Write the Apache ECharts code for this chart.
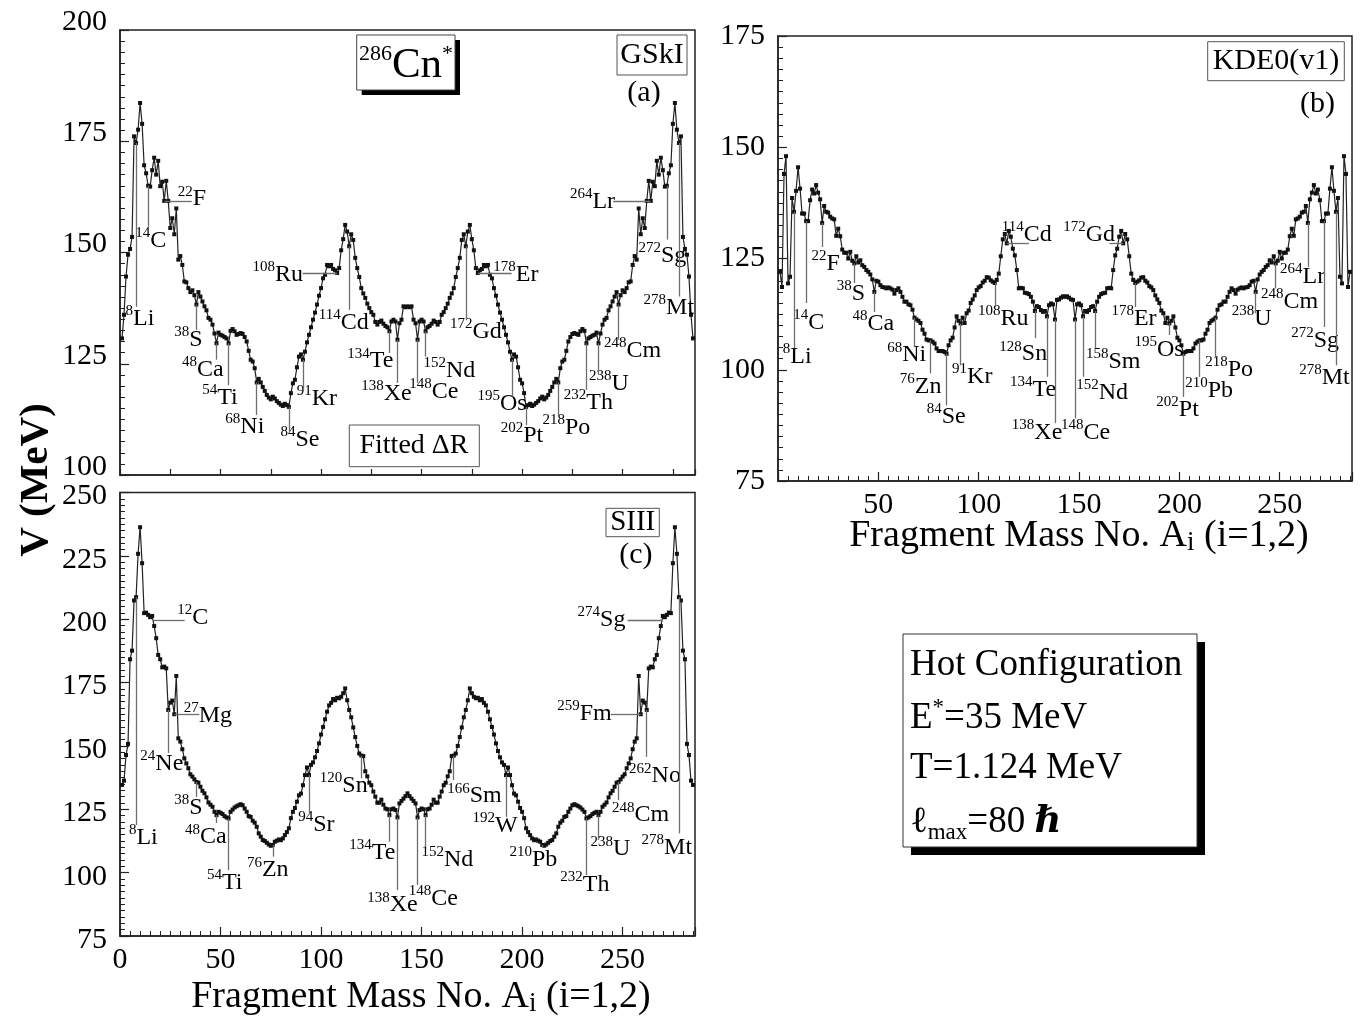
<!DOCTYPE html>
<html>
<head>
<meta charset="utf-8">
<script src="https://cdn.jsdelivr.net/npm/echarts@6/dist/echarts.min.js"></script>
<style>
  html, body { margin: 0; padding: 0; background: #fff; }
  #chart { width: 1370px; height: 1019px; }
</style>
</head>
<body>
<div id="chart"></div>
<script>
// Fragmentation potential V (MeV) of hot 286Cn* versus light-fragment mass A1 = 1..143.
// The complementary heavy fragment A2 = 286 - A1 carries the same value.
const vGSkI = [
  130.7,136.0,144.6,149.5,150.8,153.5,176.1,174.6,177.6,183.6,
  178.9,169.6,167.8,165.0,164.8,168.5,171.3,167.5,170.6,164.9,
  165.9,161.6,166.1,161.6,155.5,157.7,154.1,159.9,148.4,149.2,
  147.2,143.5,143.3,142.0,141.1,141.5,140.4,138.3,141.1,140.1,
  139.0,137.9,137.0,135.3,134.9,133.8,131.8,129.6,132.0,131.5,
  131.3,131.0,130.7,129.6,132.4,132.8,132.3,131.5,131.7,131.9,
  131.7,131.0,130.0,127.9,125.9,125.5,124.0,120.8,121.6,120.8,
  119.8,118.9,118.0,117.4,117.0,117.6,117.2,116.6,116.2,115.8,
  115.5,116.0,115.7,115.3,118.4,120.6,121.4,124.2,126.6,127.1,
  125.9,127.7,129.8,131.5,133.2,134.9,136.5,138.3,140.3,142.0,
  144.2,145.0,147.2,146.9,147.2,146.3,146.0,145.4,146.5,150.5,
  153.0,156.2,154.7,151.4,154.1,152.8,148.8,146.5,144.5,142.0,
  140.8,139.8,138.5,137.5,136.6,136.0,134.4,133.8,134.4,134.7,
  134.0,133.5,133.2,132.3,134.5,134.9,134.5,130.4,134.1,134.9,
  137.9,137.7,137.9
];
const vKDE0 = [
  122.0,118.6,144.0,148.0,119.4,120.9,138.6,135.5,140.2,145.5,
  140.7,135.1,135.1,133.4,133.4,138.1,140.5,139.6,141.5,139.8,
  138.3,133.0,136.8,135.5,135.3,134.4,134.0,133.8,130.1,131.7,
  130.0,127.0,126.3,126.3,125.0,126.5,124.5,123.9,125.5,124.1,
  124.6,123.5,123.1,122.4,122.0,121.4,120.3,117.5,120.0,119.8,
  119.0,118.6,118.5,118.3,118.5,118.3,118.0,117.1,117.9,118.3,
  117.5,116.4,115.3,115.3,114.7,114.5,113.5,111.7,111.3,111.0,
  110.5,109.0,108.1,106.8,106.6,106.6,106.3,105.9,104.8,104.2,
  104.2,104.2,104.0,103.6,105.5,106.6,107.2,109.5,112.0,111.0,
  110.4,111.7,110.5,112.7,113.3,115.0,115.8,116.7,117.9,118.5,
  118.8,119.6,120.0,120.8,120.7,120.1,119.8,119.5,120.2,121.6,
  125.5,129.3,130.5,128.4,131.2,129.9,127.2,125.7,122.4,118.3,
  118.4,118.3,117.3,117.2,117.0,116.4,115.3,113.2,114.3,114.1,
  113.4,113.0,113.2,112.0,114.5,114.9,114.7,111.3,115.7,115.8,
  116.2,116.5,116.4
];
const vSIII = [
  134.6,136.3,146.4,150.8,184.2,187.6,207.4,208.7,225.8,236.3,
  222.1,202.4,202.6,201.7,200.8,201.3,197.3,192.5,185.9,184.2,
  181.0,181.3,180.6,164.2,167.1,167.9,162.5,177.6,153.0,151.7,
  148.7,145.1,143.1,141.2,138.8,137.9,136.8,135.8,135.5,133.9,
  132.3,131.3,129.7,127.7,126.8,126.0,124.0,122.7,124.0,123.6,
  123.1,122.3,121.8,121.4,124.0,124.9,125.7,126.2,126.6,127.0,
  126.6,125.3,124.0,122.3,122.0,120.5,119.7,118.1,115.5,114.2,
  112.9,112.5,111.8,111.1,110.6,110.9,112.2,112.6,113.1,112.8,
  113.5,114.8,116.0,117.5,121.5,124.0,125.5,128.0,130.5,131.2,
  134.5,138.5,141.5,138.5,142.5,143.5,145.5,148.0,151.0,154.5,
  157.5,160.5,163.5,166.0,167.0,168.5,168.0,169.0,168.8,169.4,
  170.8,172.7,168.0,164.2,161.3,157.3,153.5,150.0,147.0,146.2,
  146.0,140.0,138.0,135.5,134.5,132.0,130.0,127.6,127.6,128.8,
  126.8,125.3,125.0,122.7,125.0,125.3,124.7,121.8,127.3,128.3,
  129.2,130.2,131.3
];

// Tick values of the axes
const massTicks = [0, 50, 100, 150, 200, 250];
const yTicksA = [100, 125, 150, 175, 200];
const yTicksB = [75, 100, 125, 150, 175];
const yTicksC = [75, 100, 125, 150, 175, 200, 225, 250];

// Labelled fragments: [mass, element, leader end A, leader end V (null = horizontal), label A, label V, (leader start A, V)]
const calloutsA = [
  [8,'Li',8,137.8,9.9,135.2],[14,'C',14,155.8,15.3,152.6],[22,'F',35.7,null,35.8,162.0],
  [38,'S',38,132.6,34.0,130.4],[48,'Ca',48,125.9,41.2,123.6],[54,'Ti',54,120.2,49.7,117.4],
  [68,'Ni',68,113.5,62.1,110.9],[84,'Se',84,109.7,89.5,107.9],[91,'Kr',91,119.1,97.9,117.2],
  [108,'Ru',90.8,null,78.5,145.1],[114,'Cd',114,137.1,111.3,134.3],[134,'Te',134,127.4,124.5,125.6],
  [138,'Xe',138,120.7,132.5,118.2],[148,'Ce',148,120.7,156.1,118.8],[152,'Nd',152,126.6,163.8,123.4],
  [172,'Gd',172,134.9,177.0,132.2],[178,'Er',194.8,null,196.9,145.0],[195,'Os',195,117.6,190.0,116.0],
  [202,'Pt',202,111.2,199.9,108.8],[218,'Po',218,113.1,222.0,110.6],[232,'Th',232,119.1,233.0,116.3],
  [238,'U',238,122.5,243.2,120.5],[248,'Cm',248,130.4,254.9,127.9],[264,'Lr',245.3,null,235.0,161.5],
  [272,'Sg',272,152.9,269.8,149.3],[278,'Mt',278,140.1,273.0,137.7]
];
const calloutsB = [
  [8,'Li',8,104.8,9.6,102.9],[14,'C',14,115.0,15.3,110.6],[22,'F',22,127.6,23.8,123.8],
  [38,'S',38,119.5,36.3,117.1],[48,'Ca',48,113.0,47.5,110.3],[68,'Ni',68,105.1,64.1,103.3],
  [76,'Zn',76,99.2,71.1,96.2],[84,'Se',84,92.0,83.8,89.5],[91,'Kr',91,101.0,96.8,98.4],
  [108,'Ru',108,114.1,112.2,111.4],[114,'Cd',125.0,null,123.9,130.3],[128,'Sn',128,107.1,122.2,103.5],
  [134,'Te',134,98.4,127.1,95.6],[138,'Xe',138,88.0,129.1,85.8],[148,'Ce',148,89.1,153.3,85.8],
  [152,'Nd',152,98.4,161.5,94.8],[158,'Sm',158,104.8,167.0,101.9],[172,'Gd',165.2,null,155.0,130.3],
  [178,'Er',178,114.1,177.4,111.5],[195,'Os',195,107.8,189.9,104.6],[202,'Pt',202,93.9,199.1,91.1],
  [210,'Pb',210,98.4,214.8,95.4],[218,'Po',218,102.6,224.8,100.1],[238,'U',238,112.7,236.0,111.4],
  [248,'Cm',248,118.3,254.9,115.3],[264,'Lr',264,123.1,261.4,120.9],[272,'Sg',272,109.6,267.6,106.6],
  [278,'Mt',278,101.0,272.3,98.2]
];
const calloutsC = [
  [8,'Li',8,118.8,11.6,113.8],[12,'C',32.2,199.5,36.2,200.7,16.5,199.5],[24,'Ne',24,147.2,20.8,142.9],
  [27,'Mg',39.4,null,43.7,161.8],[38,'S',38,129.9,34.0,125.7],[48,'Ca',48,119.6,42.7,114.0],
  [54,'Ti',54,101.0,52.1,96.1],[76,'Zn',76,106.3,73.5,101.0],[94,'Sr',94,123.4,97.7,118.8],
  [120,'Sn',120,137.2,111.3,134.2],[134,'Te',134,112.2,125.5,107.9],[138,'Xe',138,93.1,135.5,87.2],
  [148,'Ce',148,95.1,155.9,89.6],[152,'Nd',152,110.2,162.8,105.0],[166,'Sm',166,136.5,176.3,130.2],
  [192,'W',192,122.0,186.5,118.4],[210,'Pb',210,109.7,205.6,105.0],[232,'Th',232,99.0,231.2,95.1],
  [238,'U',238,112.9,243.9,109.3],[248,'Cm',248,128.6,258.9,122.7],[259,'Fm',244.0,null,231.0,162.6],
  [262,'No',262,145.7,266.1,138.1],[274,'Sg',252.5,199.5,239.5,199.7,269.5,199.5],[278,'Mt',278,115.5,272.0,109.9]
];

const FONT = 'Liberation Serif, Times New Roman, DejaVu Serif, serif';
const INK = '#000';
const TOTAL_MASS = 286;

function valueAt(v, m) {
  return v[(m <= TOTAL_MASS / 2 ? m : TOTAL_MASS - m) - 1];
}
const masses = Array.from({ length: TOTAL_MASS - 1 }, (_, i) => i + 1);
function curve(v) { return masses.map(a => [a, valueAt(v, a)]); }

function leaders(v, list) {
  return list.map(c => {
    const from = c.length > 6 ? [c[6], c[7]] : [c[0], valueAt(v, c[0])];
    const to = [c[2], c[3] === null ? from[1] : c[3]];
    return [{ coord: from }, { coord: to }];
  });
}

const richNuclide = {
  s: { fontFamily: FONT, fontSize: 15, lineHeight: 14, verticalAlign: 'top', color: INK, opacity: 1 },
  e: { fontFamily: FONT, fontSize: 24, lineHeight: 30, color: INK, opacity: 1 }
};

function panelSeries(idx, v, list) {
  return [
    {
      type: 'line', xAxisIndex: idx, yAxisIndex: idx, data: curve(v),
      symbol: 'rect', symbolSize: 4, showSymbol: true,
      itemStyle: { color: '#111' }, lineStyle: { color: '#222', width: 1.2 },
      silent: true, z: 3,
      markLine: {
        silent: true, symbol: ['none', 'none'], label: { show: false },
        lineStyle: { color: '#6e6e6e', width: 1.3, type: 'solid' },
        emphasis: { disabled: true },
        data: leaders(v, list)
      }
    },
    {
      type: 'scatter', xAxisIndex: idx, yAxisIndex: idx, silent: true, z: 4,
      symbolSize: 1, itemStyle: { color: '#fff', opacity: 1 },
      data: list.map(c => [c[4], c[5], String(c[0]), c[1]]),
      label: {
        show: true, position: 'inside', color: INK, opacity: 1,
        textBorderWidth: 0,
        formatter: p => '{s|' + p.data[2] + '}{e|' + p.data[3] + '}',
        rich: richNuclide
      }
    }
  ];
}

const tickLabel = { fontFamily: FONT, fontSize: 30, color: INK };

function xAxis(grid, labels, minorSplit, interval) {
  return {
    gridIndex: grid, type: 'value', min: 0, max: TOTAL_MASS, interval: interval,
    axisLine: { lineStyle: { color: '#222', width: 1.5 } },
    axisTick: { inside: true, length: labels ? 9 : 6, lineStyle: { color: '#222', width: 1.2 } },
    minorTick: { show: minorSplit > 0, splitNumber: minorSplit || 5, length: 5, lineStyle: { color: '#222', width: 1 } },
    splitLine: { show: false },
    axisLabel: labels ? Object.assign({ margin: 9, showMaxLabel: false,
      formatter: val => (massTicks.includes(val) ? String(val) : '') }, tickLabel, labels) : { show: false }
  };
}
function yAxis(grid, ticks, labelShift) {
  return {
    gridIndex: grid, type: 'value', min: ticks[0], max: ticks[ticks.length - 1], interval: 25,
    axisLine: { lineStyle: { color: '#222', width: 1.5 } },
    axisTick: { inside: true, length: 9, lineStyle: { color: '#222', width: 1.2 } },
    minorTick: { show: true, splitNumber: 10, length: 5, lineStyle: { color: '#222', width: 1 } },
    splitLine: { show: false },
    axisLabel: Object.assign({ margin: 13 }, tickLabel, labelShift || {})
  };
}

function box(x, y, w, h, stroke) {
  return { type: 'rect', shape: { x: x, y: y, width: w, height: h }, z: 10,
    style: { fill: '#fff', stroke: stroke || '#555', lineWidth: 1 } };
}
function shadow(x, y, w, h) {
  return { type: 'rect', shape: { x: x, y: y, width: w, height: h }, z: 9, style: { fill: '#000' } };
}
function text(x, y, str, size, extra) {
  return { type: 'text', x: x, y: y, z: 11,
    style: Object.assign({ text: str, fontFamily: FONT, fontSize: size, fill: INK,
      align: 'center', verticalAlign: 'middle' }, extra || {}) };
}

const axisTitleRich = {
  n: { fontFamily: FONT, fontSize: 38, lineHeight: 40, color: INK },
  i: { fontFamily: FONT, fontSize: 27, lineHeight: 12, verticalAlign: 'bottom', color: INK }
};
const axisTitle = '{n|Fragment Mass No. A}{i|i}{n| (i=1,2)}';

const hotRich = {
  t: { fontFamily: FONT, fontSize: 37, lineHeight: 44, color: INK },
  p: { fontFamily: FONT, fontSize: 23, lineHeight: 16, verticalAlign: 'top', color: INK },
  b: { fontFamily: FONT, fontSize: 23, lineHeight: 14, verticalAlign: 'bottom', color: INK },
  h: { fontFamily: FONT, fontSize: 37, lineHeight: 44, fontStyle: 'italic', fontWeight: 'bold', color: INK }
};

const vTitle = text(36, 480, 'V (MeV)', 41, { fontWeight: 'bold' });
vTitle.rotation = Math.PI / 2;

const graphic = [
  // vertical axis title shared by the left panels
  vTitle,
  // panel (a) insets
  shadow(361.7, 40, 98.3, 55), box(356.7, 35, 98.3, 55, '#444'),
  text(406, 66, '{s|286}{c|Cn}{s|*}', 40, { rich: {
    s: { fontFamily: FONT, fontSize: 22, lineHeight: 20, verticalAlign: 'top', color: INK },
    c: { fontFamily: FONT, fontSize: 43, lineHeight: 46, color: INK } } }),
  box(617, 35, 70, 40), text(652, 55, 'GSkI', 30),
  text(644, 93, '(a)', 30),
  box(349.3, 425, 130, 41.7), text(414, 446, 'Fitted \u0394R', 28),
  // panel (b) insets
  box(1207.7, 41.7, 136.6, 39), text(1276, 61, 'KDE0(v1)', 30),
  text(1317.5, 104, '(b)', 30),
  // panel (c) insets
  box(606, 508.3, 53.3, 28.4), text(632.7, 522.5, 'SIII', 29),
  text(635.8, 555, '(c)', 30),
  // mass-number axis titles
  text(1079, 536, axisTitle, 38, { rich: axisTitleRich }),
  text(421, 997, axisTitle, 38, { rich: axisTitleRich }),
  // configuration box
  shadow(911, 642, 294, 213), box(903, 634, 294, 213, '#333'),
  text(910, 665, 'Hot Configuration', 37, { align: 'left' }),
  text(910, 718, '{t|E}{p|*}{t|=35 MeV}', 37, { align: 'left', rich: hotRich }),
  text(910, 768, 'T=1.124 MeV', 37, { align: 'left' }),
  text(910, 822, '{t|\u2113}{b|max}{t|=80 }{h|\u210F}', 37, { align: 'left', rich: hotRich })
];

const option = {
  animation: false,
  backgroundColor: '#fff',
  grid: [
    { left: 120, top: 30, width: 575, height: 445, show: true, borderColor: '#222', borderWidth: 1.5, outerBoundsMode: 'none' },
    { left: 778, top: 36, width: 574, height: 445, show: true, borderColor: '#222', borderWidth: 1.5, outerBoundsMode: 'none' },
    { left: 120, top: 492.5, width: 575, height: 443.5, show: true, borderColor: '#222', borderWidth: 1.5, outerBoundsMode: 'none' }
  ],
  xAxis: [
    xAxis(0, null, 0, 25),
    xAxis(1, { showMinLabel: false }, 10, 50),
    xAxis(2, {}, 10, 50)
  ],
  yAxis: [
    yAxis(0, yTicksA, { verticalAlign: 'bottom', lineHeight: 16 }),
    yAxis(1, yTicksB, null),
    yAxis(2, yTicksC, { verticalAlign: 'top', lineHeight: 8 })
  ],
  series: [].concat(
    panelSeries(0, vGSkI, calloutsA),
    panelSeries(1, vKDE0, calloutsB),
    panelSeries(2, vSIII, calloutsC)
  ),
  graphic: graphic
};

const chart = echarts.init(document.getElementById('chart'), null, { renderer: 'canvas' });
chart.setOption(option);
</script>
</body>
</html>
